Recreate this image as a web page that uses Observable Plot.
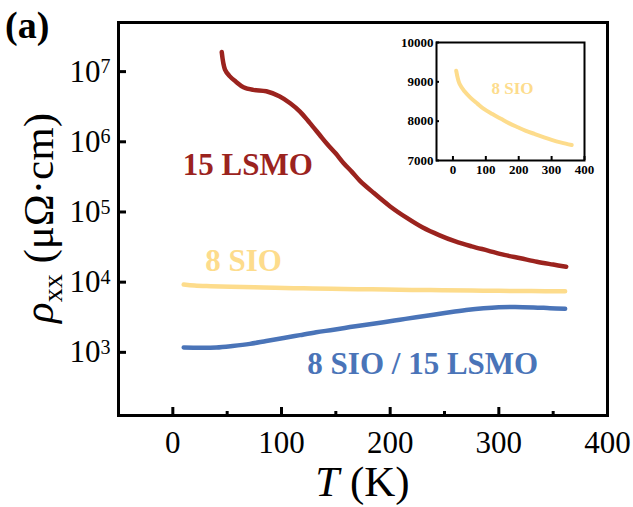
<!DOCTYPE html>
<html>
<head>
<meta charset="utf-8">
<script src="https://cdn.jsdelivr.net/npm/d3@7"></script>
<script src="https://cdn.jsdelivr.net/npm/@observablehq/plot@0.6"></script>
<style>
  html, body { margin: 0; padding: 0; background: #fff; }
  #chart { position: relative; width: 633px; height: 507px; }
  #inset { position: absolute; left: 380px; top: 20px; }
</style>
</head>
<body>
<div id="chart"><div id="inset"></div></div>
<script>
// Resistivity vs temperature (μΩ·cm)
const lsmoT   = [45, 48, 52, 58, 65, 74, 86, 98, 108, 117, 126, 135, 142, 150, 157, 165, 172, 185, 200, 215, 230, 245, 260, 275, 290, 305, 320, 335, 350, 362];
const lsmoRho = [1.9e7, 1.07e7, 8.7e6, 7.2e6, 6.0e6, 5.5e6, 5.25e6, 4.47e6, 3.55e6, 2.7e6, 1.86e6, 1.26e6, 9.3e5, 6.8e5, 5.0e5, 3.7e5, 2.8e5, 1.86e5, 1.2e5, 8.3e4, 6.0e4, 4.68e4, 3.8e4, 3.24e4, 2.82e4, 2.45e4, 2.19e4, 1.95e4, 1.78e4, 1.66e4];

const sioT   = [10, 20, 35, 53, 75, 94, 120, 146, 170, 197, 220, 248, 275, 300, 330, 361];
const sioRho = [9280, 8950, 8760, 8600, 8440, 8310, 8180, 8060, 7950, 7845, 7760, 7675, 7595, 7525, 7455, 7395];

const hetT   = [10, 25, 40, 55, 71, 86, 102, 117, 132, 148, 163, 178, 194, 209, 224, 240, 255, 270, 286, 300, 315, 332, 347, 361];
const hetRho = [1170, 1160, 1170, 1230, 1320, 1450, 1600, 1760, 1930, 2100, 2290, 2480, 2690, 2920, 3160, 3430, 3720, 4000, 4250, 4400, 4440, 4370, 4260, 4170];

// Axis ticks
const xTicks = [0, 100, 200, 300, 400];
const xMinorTicks = [50, 150, 250, 350];
const yTicks = [1e3, 1e4, 1e5, 1e6, 1e7];
const insetXTicks = [0, 100, 200, 300, 400];
const insetYTicks = [7000, 8000, 9000, 10000];

const RED = "#9b231e", YELLOW = "#fddc8c", BLUE = "#4a74b8";
const SERIF = "Liberation Serif, Times New Roman, serif";

const rows = (ts, vs) => ts.map((t, i) => ({T: t, rho: vs[i]}));
const lsmo = rows(lsmoT, lsmoRho), sio = rows(sioT, sioRho), het = rows(hetT, hetRho);

const lineOpts = {x: "T", y: "rho", strokeWidth: 4.5, strokeLinecap: "round", strokeLinejoin: "round", curve: "catmull-rom"};

// Layout of the main panel
const W = 633, H = 507, ML = 118, MR = 26, MT = 22, MB = 92;
const innerH = H - MT - MB;

const main = Plot.plot({
  width: W, height: H,
  marginLeft: ML, marginRight: MR, marginTop: MT, marginBottom: MB,
  style: {fontFamily: SERIF, background: "white", color: "black", overflow: "visible"},
  x: {domain: [-50, 400]},
  y: {type: "log", domain: [Math.pow(10, 2.1), Math.pow(10, 7.7)]},
  marks: [
    Plot.line(sio, {...lineOpts, stroke: YELLOW}),
    Plot.line(het, {...lineOpts, stroke: BLUE}),
    Plot.line(lsmo, {...lineOpts, stroke: RED}),
    Plot.text(["15 LSMO"], {x: 69, y: 4.7e5, text: d => d, fill: RED, fontSize: 31, fontWeight: "bold"}),
    Plot.text(["8 SIO"], {x: 65, y: 2.0e4, text: d => d, fill: YELLOW, fontSize: 31, fontWeight: "bold"}),
    Plot.text(["8 SIO / 15 LSMO"], {x: 230, y: 686, text: d => d, fill: BLUE, fontSize: 31, fontWeight: "bold"}),
    Plot.axisX(xTicks, {tickSize: 0, tickPadding: 15, fontSize: 31, label: null}),
    Plot.axisY(yTicks, {tickSize: 0, tickPadding: 8, fontSize: 31, label: null,
      tickFormat: d => "10^" + Math.round(Math.log10(d))}),
    Plot.frame({strokeWidth: 3}),
    // inward ticks
    Plot.ruleX(xTicks, {strokeWidth: 3, insetTop: innerH - 8}),
    Plot.ruleX(xMinorTicks, {strokeWidth: 3, insetTop: innerH - 4}),
    Plot.axisY(yTicks, {tickSize: -8, strokeWidth: 3, fill: "none", label: null})
  ]
});

// Superscript exponents on the log axis labels
d3.select(main).selectAll('g[aria-label="y-axis tick label"] text').each(function() {
  const [base, exp] = this.textContent.split("^");
  const t = d3.select(this).text("");
  t.append("tspan").text(base);
  t.append("tspan").attr("dy", "-0.42em").attr("font-size", "20px").text(exp);
});

const svg = d3.select(main);
// Axis titles and panel letter
const yl = svg.append("text")
  .attr("transform", "translate(53,218) rotate(-90)")
  .attr("text-anchor", "middle")
  .attr("font-family", SERIF).attr("font-size", 43).attr("fill", "black");
yl.append("tspan").attr("font-style", "italic").text("ρ");
yl.append("tspan").attr("font-size", 28).attr("dy", 9).text("xx");
yl.append("tspan").attr("dy", -9).text(" (μΩ·cm)");

const xl = svg.append("text")
  .attr("x", 362.5).attr("y", 496)
  .attr("text-anchor", "middle")
  .attr("font-family", SERIF).attr("font-size", 43).attr("fill", "black");
xl.append("tspan").attr("font-style", "italic").text("T");
xl.append("tspan").text(" (K)");

svg.append("text")
  .attr("x", 5).attr("y", 38)
  .attr("text-anchor", "start")
  .attr("font-family", SERIF).attr("font-size", 38).attr("font-weight", "bold").attr("fill", "black")
  .text("(a)");

document.getElementById("chart").prepend(main);

// Inset: 8 SIO on a linear scale
const IW = 230, IH = 170, IML = 56, IMR = 26, IMT = 22, IMB = 30;
const inset = Plot.plot({
  width: IW, height: IH,
  marginLeft: IML, marginRight: IMR, marginTop: IMT, marginBottom: IMB,
  style: {fontFamily: SERIF, background: "transparent", color: "black", overflow: "visible"},
  x: {domain: [-50, 400]},
  y: {domain: [7000, 10000]},
  marks: [
    Plot.line(sio, {...lineOpts, stroke: YELLOW, strokeWidth: 4}),
    Plot.text(["8 SIO"], {x: 181, y: 8830, text: d => d, fill: YELLOW, fontSize: 17, fontWeight: "bold"}),
    Plot.axisX(insetXTicks, {tickSize: 0, tickPadding: 4, fontSize: 13, fontWeight: "bold", label: null}),
    Plot.axisY(insetYTicks, {tickSize: 0, tickPadding: 3, fontSize: 13, fontWeight: "bold", label: null, tickFormat: d => String(d)}),
    Plot.frame({strokeWidth: 2}),
    Plot.ruleX(insetXTicks, {strokeWidth: 2, insetTop: IH - IMT - IMB - 4}),
    Plot.axisY(insetYTicks, {tickSize: -3, strokeWidth: 2, fill: "none", label: null})
  ]
});
document.getElementById("inset").append(inset);
</script>
</body>
</html>
